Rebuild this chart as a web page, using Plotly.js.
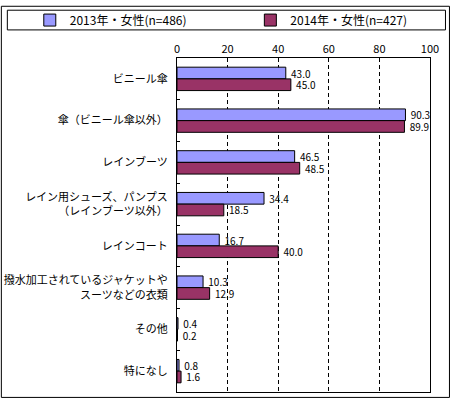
<!DOCTYPE html>
<html>
<head>
<meta charset="utf-8">
<script src="https://cdn.plot.ly/plotly-3.0.1.min.js"></script>
<style>html,body{margin:0;padding:0;background:#fff;}</style>
</head>
<body>
<div id="chart" style="width:450px;height:398px;"></div>
<script>
var categories = [
  "ビニール傘",
  "傘（ビニール傘以外）",
  "レインブーツ",
  "レイン用シューズ、パンプス<br>（レインブーツ以外）",
  "レインコート",
  "撥水加工されているジャケットや<br>スーツなどの衣類",
  "その他",
  "特になし"
];
var series2013Name = "2013年・女性(n=486)";
var series2014Name = "2014年・女性(n=427)";
var values2013 = [43.0, 90.3, 46.5, 34.4, 16.7, 10.3, 0.4, 0.8];
var values2014 = [45.0, 89.9, 48.5, 18.5, 40.0, 12.9, 0.2, 1.6];
var xTicks = [0, 20, 40, 60, 80, 100];

var FONT = '"Noto Sans CJK JP", "Noto Sans", sans-serif';
// plot area in pixels
var L = 176.5, R = 430, T = 53, B = 392, Wd = 450, Ht = 398;
var PW = R - L, PH = B - T;
function px(x) { return (x - L) / PW; }
function py(y) { return (B - y) / PH; }

var common = {
  type: 'bar', orientation: 'h', y: categories,
  texttemplate: ' %{x:.1f}', textposition: 'outside', cliponaxis: false,
  constraintext: 'none',
  textfont: {family: FONT, size: 10, color: '#000'},
  hoverinfo: 'skip'
};
var t1 = Object.assign({}, common, {
  name: series2013Name, x: values2013, legend: 'legend',
  marker: {color: '#9999FF', line: {color: '#000', width: 1}}
});
var t2 = Object.assign({}, common, {
  name: series2014Name, x: values2014, legend: 'legend2',
  marker: {color: '#993366', line: {color: '#000', width: 1}}
});

function legendAt(xpix) {
  return {
    orientation: 'h', x: px(xpix), xanchor: 'left', y: py(14.5), yanchor: 'middle',
    font: {family: FONT, size: 12, color: '#000'},
    bgcolor: 'rgba(0,0,0,0)', borderwidth: 0
  };
}

var layout = {
  width: Wd, height: Ht,
  margin: {l: L, r: Wd - R, t: T, b: Ht - B, pad: 0},
  paper_bgcolor: '#fff', plot_bgcolor: '#fff',
  font: {family: FONT, size: 11, color: '#000'},
  barmode: 'group', bargap: 0.44, bargroupgap: 0,
  showlegend: true,
  legend: legendAt(29),
  legend2: legendAt(250),
  xaxis: {
    side: 'top', range: [0, 100], tickvals: xTicks, ticktext: xTicks.map(String),
    showgrid: true, gridcolor: '#000', gridwidth: 1, griddash: '4px,3px',
    showline: true, mirror: true, linecolor: '#000', linewidth: 1,
    ticks: '', zeroline: false, fixedrange: true,
    tickfont: {family: FONT, size: 11, color: '#000'}
  },
  yaxis: {
    type: 'category', autorange: 'reversed',
    showline: true, mirror: true, linecolor: '#000', linewidth: 1,
    ticks: 'inside', ticklen: 3, tickcolor: '#000', tickson: 'boundaries',
    ticklabelstandoff: 6,
    showgrid: false, zeroline: false, fixedrange: true,
    tickfont: {family: FONT, size: 11, color: '#000'}
  },
  shapes: [
    {type: 'rect', xref: 'paper', yref: 'paper',
     x0: px(0.5), x1: px(449.5), y0: py(397.5), y1: py(0.5),
     line: {color: '#000', width: 1}, fillcolor: 'rgba(0,0,0,0)'},
    {type: 'rect', xref: 'paper', yref: 'paper',
     x0: px(6.5), x1: px(445.5), y0: py(24.5), y1: py(4.5),
     line: {color: '#000', width: 1}, fillcolor: 'rgba(0,0,0,0)'}
  ]
};

Plotly.newPlot('chart', [t1, t2], layout, {displayModeBar: false, staticPlot: true});
</script>
</body>
</html>
